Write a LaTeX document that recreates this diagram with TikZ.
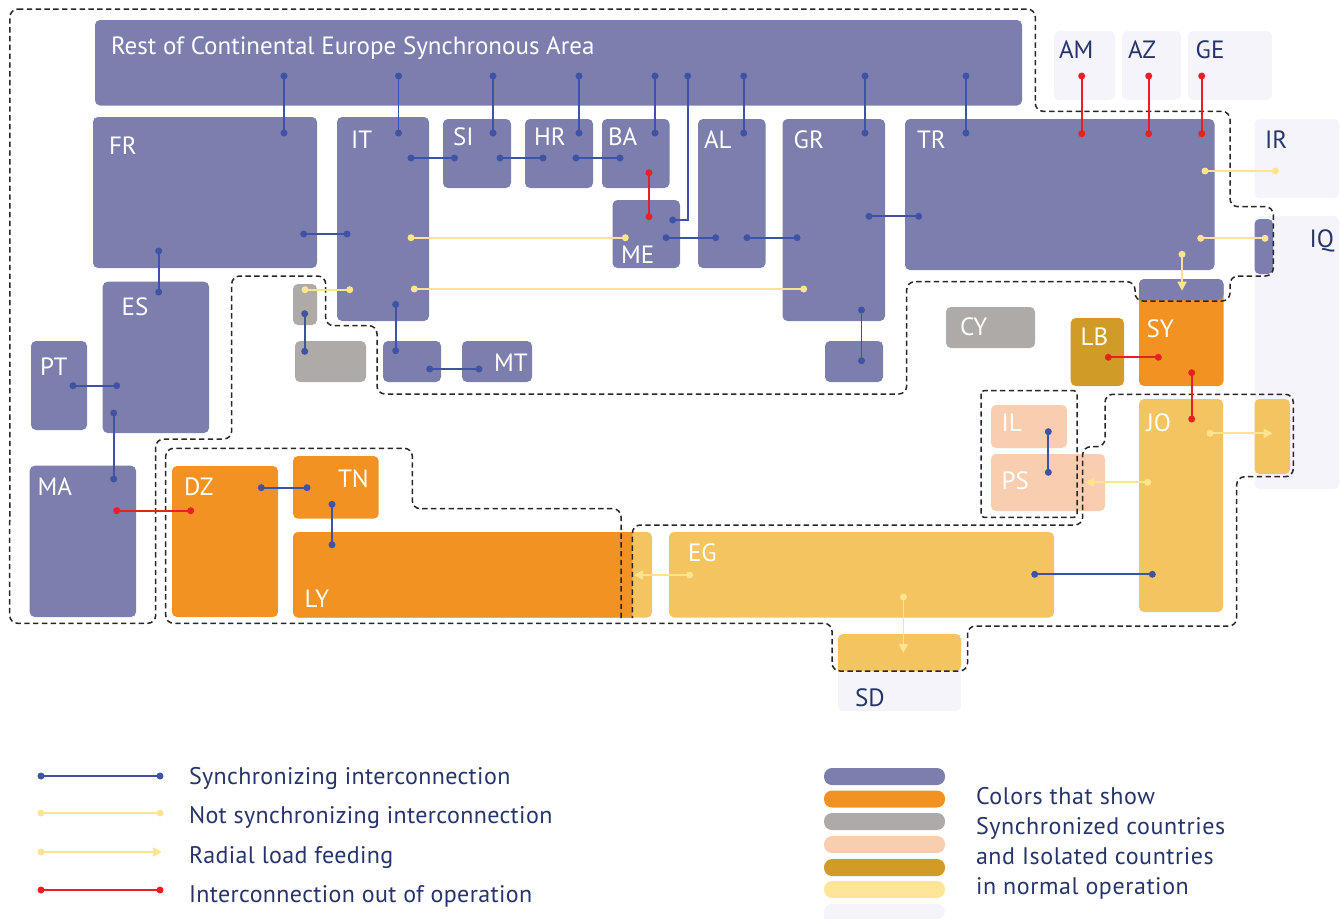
\documentclass[tikz,border=0pt]{standalone}
\usepackage{fontspec}
\setmainfont{PT Sans}
\newfontfamily\legA[LetterSpace=1.5]{PT Sans}
\newfontfamily\legB[LetterSpace=2.4]{PT Sans}
\usetikzlibrary{arrows.meta}
\definecolor{cbox}{HTML}{7C7EAD}
\definecolor{corange}{HTML}{F29222}
\definecolor{cgrey}{HTML}{AEAAA8}
\definecolor{cpeach}{HTML}{F9CDB0}
\definecolor{cgold}{HTML}{D19B27}
\definecolor{cyel}{HTML}{F3C45F}
\definecolor{clyel}{HTML}{FFE599}
\definecolor{cpale}{HTML}{F5F4FB}
\definecolor{ctext}{HTML}{27346B}
\definecolor{lblue}{HTML}{3F53A6}
\definecolor{lred}{HTML}{E52222}
\definecolor{lyel}{HTML}{FFE38F}
\tikzset{
  x=1pt,y=-1pt,
  cbx/.style={rectangle,rounded corners=5pt,inner sep=0pt,outer sep=0pt,draw=none},
  pill/.style={rectangle,rounded corners=8pt,inner sep=0pt,outer sep=0pt,draw=none},
  dotn/.style={circle,inner sep=0pt,outer sep=0pt,minimum size=7pt,draw=none},
  conn/.style={line width=1.8pt},
  border/.style={draw=black!85,line width=1.5pt,dash pattern=on 5.4pt off 3.4pt,rounded corners=8pt},
  wlab/.style={anchor=base west,inner sep=0pt,outer sep=0pt,text=white,font=\fontsize{25}{25}\selectfont,xshift=-1pt,yshift=-1pt},
  dlab/.style={anchor=base west,inner sep=0pt,outer sep=0pt,text=ctext,font=\fontsize{25}{25}\selectfont,xshift=-1pt,yshift=-1pt},
  lega/.style={anchor=base west,inner sep=0pt,outer sep=0pt,text=ctext,font=\legA\fontsize{24}{24}\selectfont},
  legb/.style={anchor=base west,inner sep=0pt,outer sep=0pt,text=ctext,font=\legB\fontsize{24}{24}\selectfont},
}
\newcommand{\bxs}[7][cbx]{\pgfmathsetmacro{\bw}{#4-#2}\pgfmathsetmacro{\bh}{#5-#3}\pgfmathsetmacro{\bcx}{(#2+#4)/2}\pgfmathsetmacro{\bcy}{(#3+#5)/2}%
  \node[#1,fill=#7,minimum width=\bw pt,minimum height=\bh pt] (#6) at (\bcx,\bcy) {};}
\newcommand{\lnk}[6]{\node[dotn,fill=#2] (#1a) at (#3,#4) {};\node[dotn,fill=#2] (#1b) at (#5,#6) {};\draw[conn,draw=#2] (#1a.center) -- (#1b.center);}
\newcommand{\arw}[6]{\node[dotn,fill=#2] (#1a) at (#3,#4) {};\coordinate (#1b) at (#5,#6);\draw[conn,draw=#2,-{Triangle[length=9pt,width=9pt]}] (#1a.center) -- (#1b);}
\begin{document}
\begin{tikzpicture}
\useasboundingbox (0,0) rectangle (1340,919);
% pale
\bxs{1054}{31}{1115}{100}{bAM}{cpale}
\bxs{1122}{31}{1181}{100}{bAZ}{cpale}
\bxs{1188}{31}{1272}{100}{bGE}{cpale}
\bxs{1254.5}{119}{1339}{198}{bIR}{cpale}
\bxs{1254.5}{216}{1339}{489}{bIQ}{cpale}
\bxs{838}{634}{961}{711}{bSD}{cpale}
% blue
\bxs{95}{20}{1022}{105.5}{bRest}{cbox}
\bxs{93}{117}{317}{268}{bFR}{cbox}
\bxs{337}{117}{429}{321}{bIT}{cbox}
\bxs{443}{119}{511}{188}{bSI}{cbox}
\bxs{525}{119}{593}{188}{bHR}{cbox}
\bxs{602}{119}{669.5}{188}{bBA}{cbox}
\bxs{612.5}{200}{680}{268}{bME}{cbox}
\bxs{698}{119}{765.5}{268}{bAL}{cbox}
\bxs{782.5}{119}{885}{321}{bGR}{cbox}
\bxs{905}{119}{1214.5}{270}{bTR}{cbox}
\bxs{1254.5}{219}{1273}{274}{bIQb}{cbox}
\bxs{102.7}{281.7}{209}{433}{bES}{cbox}
\bxs{31}{341}{87}{430}{bPT}{cbox}
\bxs{29.7}{465.7}{136}{617}{bMA}{cbox}
\bxs{383}{341}{441}{382}{bIs}{cbox}
\bxs{462}{341}{532}{382}{bMT}{cbox}
\bxs{825}{341}{883}{382}{bCr}{cbox}
% grey
\bxs{293}{284}{317}{325}{bGa}{cgrey}
\bxs{295}{341}{366}{382}{bGb}{cgrey}
\bxs{946}{307}{1035}{348}{bCY}{cgrey}
% SY
\bxs{1139}{279}{1223.5}{386}{bSY}{corange}
\fill[cbox] (1139,300) [rounded corners=5pt] -- (1139,279) -- (1223.5,279) -- (1223.5,300) [sharp corners] -- cycle;
\bxs{1070.7}{318}{1124}{386}{bLB}{cgold}
% peach
\bxs{991}{405}{1067}{448}{bIL}{cpeach}
\bxs{991}{454}{1105}{511}{bPS}{cpeach}
% yellow
\bxs{1139}{399}{1223}{612}{bJO}{cyel}
\bxs{1254.5}{399}{1290}{474}{bIQy}{cyel}
\bxs{669}{532}{1054}{617.5}{bEG}{cyel}
\fill[cyel] (838,671) [rounded corners=5pt] -- (838,634) -- (961,634) -- (961,671) [sharp corners] -- cycle;
% orange
\bxs{172}{466}{278}{617}{bDZ}{corange}
\bxs{293}{456}{378.7}{518.7}{bTN}{corange}
\bxs{293}{532}{652}{617.5}{bLY}{cyel}
\fill[corange] (632.4,532) -- (632.4,617.5) [rounded corners=5pt] -- (293,617.5) -- (293,532) [sharp corners] -- cycle;
% dashed borders
\draw[border] (10,9) -- (1035.3,9) -- (1035.3,111.3) -- (1230,111.3) -- (1230,206.7) -- (1273.3,206.7) -- (1273.3,276) -- (1230,276) -- (1230,301) -- (1135,301) -- (1135,281.7) -- (906.7,281.7) -- (906.7,394) -- (377,394) -- (377,325.7) -- (325.7,325.7) -- (325.7,276) -- (231.7,276) -- (231.7,439) -- (155.7,439) -- (155.7,623.3) -- (9.7,623.3) -- cycle;
\draw[border] (621,618) -- (621,508.7) -- (412.3,508.7) -- (412.3,448.3) -- (165.7,448.3) -- (165.7,623.3) -- (832,623.3) -- (832,671) -- (967.5,671) -- (967.5,626) -- (1236.7,626) -- (1236.7,476.7) -- (1293.3,476.7) -- (1293.3,394.3) -- (1105,394.3) -- (1105,446.7) -- (1082.7,446.7) -- (1082.7,525) -- (632.4,525) -- (632.4,618);
\draw[border,rounded corners=3pt] (981,390.7) rectangle (1077,517.3);
% connectors
\lnk{c1}{lblue}{284}{76}{284}{133}
\lnk{c2}{lblue}{398.5}{76}{398.5}{133}
\lnk{c3}{lblue}{493}{76}{493}{133}
\lnk{c4}{lblue}{579}{76}{579}{133}
\lnk{c5}{lblue}{655}{76}{655}{133}
\lnk{c7}{lblue}{743.7}{76}{743.7}{133}
\lnk{c8}{lblue}{865}{76}{865}{133}
\lnk{c9}{lblue}{966}{76}{966}{133}
\node[dotn,fill=lblue] (c6a) at (687.7,76) {};
\node[dotn,fill=lblue] (c6b) at (672.7,220) {};
\draw[conn,draw=lblue] (c6a.center) |- (c6b.center);
\lnk{d1}{lblue}{411}{158}{454.5}{158}
\lnk{d2}{lblue}{500}{158}{543}{158}
\lnk{d3}{lblue}{576}{158}{620}{158}
\lnk{d4}{lblue}{666}{237.7}{715.7}{237.7}
\lnk{d5}{lblue}{747}{237.7}{797}{237.7}
\lnk{d6}{lblue}{869}{216.3}{918.7}{216.3}
\lnk{d7}{lblue}{303.7}{234}{347}{234}
\lnk{d8}{lblue}{158.7}{251}{158.7}{292}
\lnk{d9}{lblue}{73}{385.7}{116.7}{385.7}
\lnk{e1}{lblue}{113.7}{413}{113.7}{479}
\lnk{e2}{lblue}{395.7}{304.3}{395.7}{350.7}
\lnk{e3}{lblue}{429.7}{369}{479}{369}
\lnk{e4}{lblue}{861.5}{310}{861.5}{360.7}
\lnk{e5}{lblue}{304.7}{313.7}{304.7}{351.3}
\lnk{e6}{lblue}{261.3}{487.7}{307}{487.7}
\lnk{e7}{lblue}{332}{504.3}{332}{544.7}
\lnk{e8}{lblue}{1048.3}{431.7}{1048.3}{472.3}
\lnk{e9}{lblue}{1034.7}{574.3}{1152.3}{574.3}
\lnk{r1}{lred}{649}{172.7}{649}{216.7}
\lnk{r2}{lred}{1081.7}{76}{1081.7}{133.7}
\lnk{r3}{lred}{1148.7}{76}{1148.7}{133.7}
\lnk{r4}{lred}{1201.7}{76}{1201.7}{133.7}
\lnk{r5}{lred}{116.7}{510.7}{190.7}{510.7}
\lnk{r6}{lred}{1108.3}{357.3}{1158.3}{357.3}
\lnk{r7}{lred}{1191.7}{372.7}{1191.7}{419}
\lnk{y1}{lyel}{411}{237.7}{625.3}{237.7}
\lnk{y2}{lyel}{414.3}{289}{803.7}{289}
\lnk{y3}{lyel}{305}{289.7}{349.7}{289.7}
\lnk{y4}{lyel}{1205}{171}{1275.3}{171}
\lnk{y5}{lyel}{1200.7}{238.3}{1265}{238.3}
\arw{a1}{lyel}{1182}{254.3}{1182}{290.7}
\arw{a2}{lyel}{1210}{433.3}{1272.7}{433.3}
\arw{a3}{lyel}{1147.7}{482.3}{1085}{482.3}
\arw{a4}{lyel}{689.6}{575}{633.8}{575}
\arw{a5}{lyel}{903.4}{597}{903.4}{653}
% labels
\node[wlab,xshift=1pt,yshift=1pt] (tRest) at (111,54) {Rest of Continental Europe Synchronous Area};
\node[wlab] (tFR) at (110,153) {FR};
\node[wlab] (tIT) at (352,147) {IT};
\node[wlab] (tSI) at (454,144) {SI};
\node[wlab] (tHR) at (535,144) {HR};
\node[wlab] (tBA) at (609,144) {BA};
\node[wlab] (tME) at (622,262.7) {ME};
\node[wlab] (tAL) at (705,147) {AL};
\node[wlab] (tGR) at (794.7,147) {GR};
\node[wlab] (tTR) at (918,147.7) {TR};
\node[dlab] (tAM) at (1060,57.7) {AM};
\node[dlab] (tAZ) at (1129,57.7) {AZ};
\node[dlab] (tGE) at (1196.7,57.7) {GE};
\node[dlab] (tIR) at (1266,147) {IR};
\node[dlab] (tIQ) at (1310.7,246.7) {IQ};
\node[wlab] (tES) at (122.7,314.7) {ES};
\node[wlab] (tPT) at (41,374.7) {PT};
\node[wlab] (tMA) at (38.7,494.7) {MA};
\node[wlab] (tDZ) at (185,494.7) {DZ};
\node[wlab] (tTN) at (339,486) {TN};
\node[wlab] (tLY) at (305.7,606) {LY};
\node[wlab] (tMT) at (495,370) {MT};
\node[wlab] (tCY) at (961,334.3) {CY};
\node[wlab] (tLB) at (1081.7,344.7) {LB};
\node[wlab] (tSY) at (1147.7,336.7) {SY};
\node[wlab] (tIL) at (1002.7,430) {IL};
\node[wlab] (tPS) at (1002.7,488.3) {PS};
\node[wlab] (tJO) at (1147.7,430.7) {JO};
\node[wlab] (tEG) at (689,560) {EG};
\node[dlab] (tSD) at (856,705) {SD};
% legend left
\lnk{l1}{lblue}{41}{776}{160}{776}
\lnk{l2}{lyel}{41}{813}{160}{813}
\arw{l3}{lyel}{41}{852}{162}{852}
\lnk{l4}{lred}{41}{890}{160}{890}
\node[lega] (s1) at (189,784) {Synchronizing interconnection};
\node[lega] (s2) at (189,823) {Not synchronizing interconnection};
\node[lega] (s3) at (189,863) {Radial load feeding};
\node[lega] (s4) at (189,902) {Interconnection out of operation};
% legend right
\bxs[pill]{824}{768}{945}{785}{p1}{cbox}
\bxs[pill]{824}{790.5}{945}{807.5}{p2}{corange}
\bxs[pill]{824}{813}{945}{830}{p3}{cgrey}
\bxs[pill]{824}{836}{945}{853}{p4}{cpeach}
\bxs[pill]{824}{859}{945}{876}{p5}{cgold}
\bxs[pill]{824}{881}{945}{898}{p6}{clyel}
\fill[cpale] (824,919) [rounded corners=8pt] -- (824,904) -- (945,904) -- (945,919) [sharp corners] -- cycle;
\node[legb] (s5) at (976,804) {Colors that show};
\node[legb] (s6) at (976,834) {Synchronized countries};
\node[legb] (s7) at (976,864) {and Isolated countries};
\node[legb] (s8) at (976,894) {in normal operation};
\end{tikzpicture}
\end{document}
